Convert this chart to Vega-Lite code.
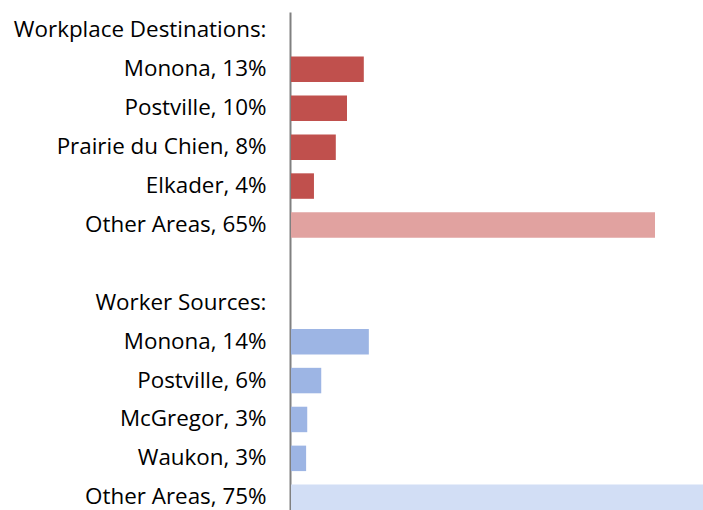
{
  "$schema": "https://vega.github.io/schema/vega-lite/v6.json",
  "width": 412,
  "height": 498,
  "autosize": {"type": "none"},
  "padding": {"left": 291, "top": 12, "right": 0, "bottom": 0},
  "background": "white",
  "config": {"view": {"stroke": null}, "font": "Open Sans"},
  "data": {
    "values": [
      {"label": "Monona, 13%", "value": 13.0, "kind": "dest"},
      {"label": "Postville, 10%", "value": 10.0, "kind": "dest"},
      {"label": "Prairie du Chien, 8%", "value": 8.0, "kind": "dest"},
      {"label": "Elkader, 4%", "value": 4.1, "kind": "dest"},
      {"label": "Other Areas, 65%", "value": 65.0, "kind": "destOther"},
      {"label": "Monona, 14%", "value": 13.9, "kind": "src"},
      {"label": "Postville, 6%", "value": 5.4, "kind": "src"},
      {"label": "McGregor, 3%", "value": 2.9, "kind": "src"},
      {"label": "Waukon, 3%", "value": 2.7, "kind": "src"},
      {"label": "Other Areas, 75%", "value": 75.0, "kind": "srcOther"}
    ]
  },
  "mark": {"type": "bar", "clip": true},
  "encoding": {
    "y": {
      "field": "label",
      "type": "nominal",
      "scale": {
        "domain": ["Workplace Destinations:", "Monona, 13%", "Postville, 10%", "Prairie du Chien, 8%", "Elkader, 4%", "Other Areas, 65%", " ", "Worker Sources:", "Monona, 14%", "Postville, 6%", "McGregor, 3%", "Waukon, 3%", "Other Areas, 75%"],
        "paddingInner": 0.345,
        "paddingOuter": 0.0735,
        "align": 1
      },
      "axis": {
        "title": null,
        "ticks": false,
        "labelPadding": 24,
        "labelFontSize": 22.4,
        "labelFont": "Open Sans",
        "labelColor": "#000000",
        "labelLimit": 300,
        "domainColor": "#808080",
        "domainWidth": 2,
        "offset": 1
      }
    },
    "x": {
      "field": "value",
      "type": "quantitative",
      "scale": {"domain": [0, 73.57], "nice": false, "zero": true},
      "axis": null
    },
    "color": {
      "field": "kind",
      "type": "nominal",
      "scale": {
        "domain": ["dest", "destOther", "src", "srcOther"],
        "range": ["#c0504d", "#e1a2a0", "#9db5e4", "#d2def5"]
      },
      "legend": null
    }
  }
}
